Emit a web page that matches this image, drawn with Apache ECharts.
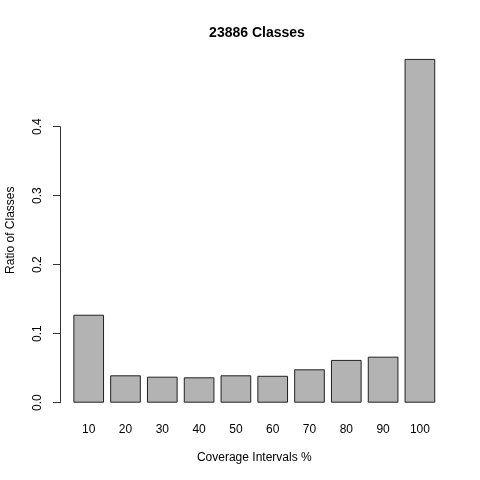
<!DOCTYPE html>
<html>
<head>
<meta charset="utf-8">
<script src="https://cdn.jsdelivr.net/npm/echarts@6/dist/echarts.min.js"></script>
<style>
html,body{margin:0;padding:0;background:#fff;}
#chart{width:480px;height:480px;}
</style>
</head>
<body>
<div id="chart"></div>
<script>
const categories = ['10','20','30','40','50','60','70','80','90','100'];
const ratios = [0.1275, 0.0397, 0.0377, 0.0368, 0.0397, 0.0390, 0.0484, 0.0620, 0.0667, 0.4982];
const titleText = '23886 Classes';
const xTitle = 'Coverage Intervals %';
const yTitle = 'Ratio of Classes';

const font = 'Liberation Sans, Arial, Helvetica, sans-serif';
const chart = echarts.init(document.getElementById('chart'));
chart.setOption({
  animation: false,
  backgroundColor: '#ffffff',
  textStyle: { fontFamily: font },
  title: {
    text: titleText,
    left: 252,
    top: 21,
    textAlign: 'center',
    textStyle: { fontFamily: font, fontSize: 14, fontWeight: 'bold', color: '#000' }
  },
  grid: [
    { left: 70.3, right: 41.7, top: 43.9, bottom: 63.5, containLabel: false, outerBoundsMode: 'none' },
    { left: 60, width: 20, top: 126.7, height: 276, containLabel: false, outerBoundsMode: 'none' }
  ],
  xAxis: [
    {
      gridIndex: 0,
      type: 'category',
      data: categories,
      name: xTitle,
      nameLocation: 'middle',
      nameGap: 35,
      nameTextStyle: { fontFamily: font, fontSize: 12, color: '#000' },
      axisLine: { show: false, onZero: false },
      axisTick: { show: false },
      axisLabel: { fontFamily: font, fontSize: 12, color: '#000', margin: 7 },
      splitLine: { show: false }
    },
    {
      gridIndex: 1,
      type: 'value',
      show: false
    }
  ],
  yAxis: [
    {
      gridIndex: 0,
      type: 'value',
      min: -0.02,
      max: 0.52,
      name: yTitle,
      nameLocation: 'middle',
      nameGap: 54,
      nameTextStyle: { fontFamily: font, fontSize: 12, color: '#000' },
      axisLine: { show: false },
      axisTick: { show: false },
      axisLabel: { show: false },
      splitLine: { show: false }
    },
    {
      gridIndex: 1,
      type: 'value',
      min: 0,
      max: 0.4,
      interval: 0.1,
      axisLine: { show: true, lineStyle: { color: '#333', width: 1 } },
      axisTick: { show: true, length: 7, lineStyle: { color: '#333', width: 1 } },
      axisLabel: {
        fontFamily: font, fontSize: 12, color: '#000', rotate: 90, margin: 16,
        formatter: v => v.toFixed(1)
      },
      splitLine: { show: false }
    }
  ],
  series: [
    {
      type: 'bar',
      xAxisIndex: 0,
      yAxisIndex: 0,
      data: ratios,
      barWidth: '83.33%',
      itemStyle: { color: '#b3b3b3', borderColor: '#222', borderWidth: 1 }
    }
  ]
});
</script>
</body>
</html>
